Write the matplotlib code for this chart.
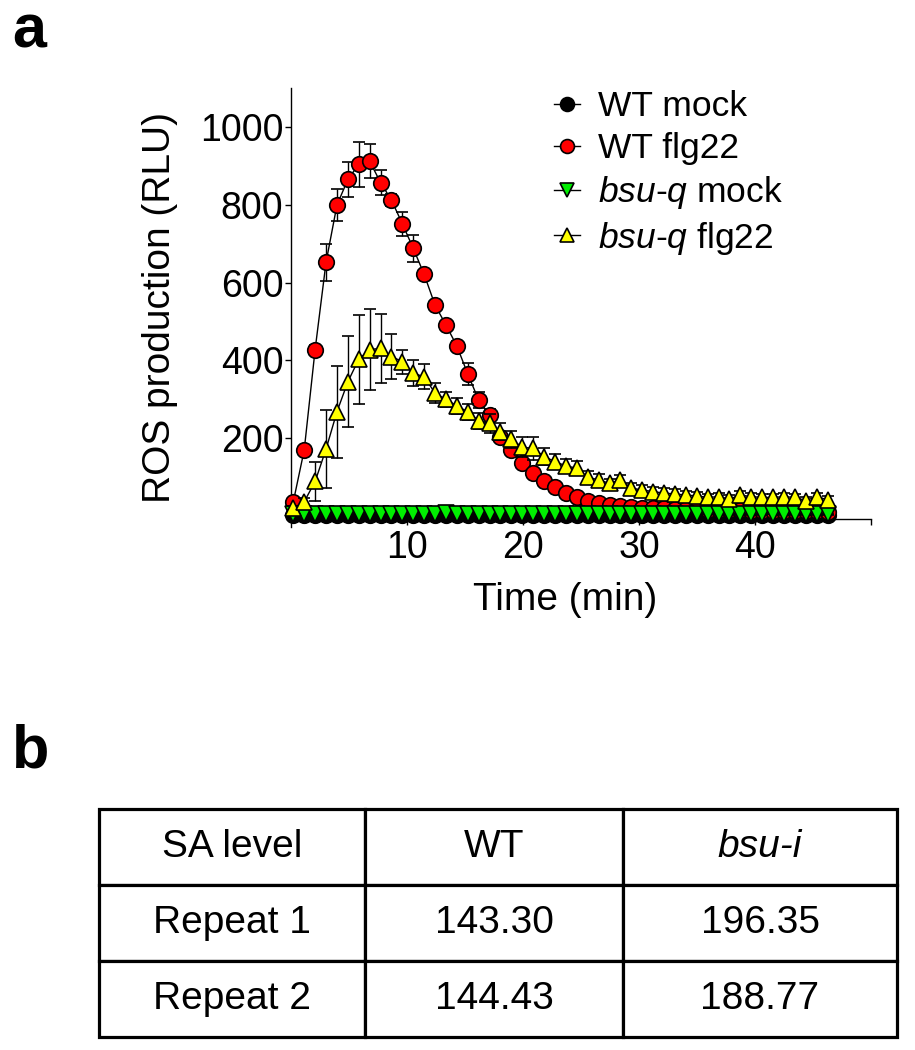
import numpy as np
import matplotlib
matplotlib.use("Agg")
import matplotlib.pyplot as plt

plt.rcParams['font.family'] = ['Liberation Sans', 'DejaVu Sans']
plt.rcParams['mathtext.fontset'] = 'custom'
plt.rcParams['mathtext.it'] = 'Liberation Sans:italic'
plt.rcParams['mathtext.rm'] = 'Liberation Sans'

# sampling: 50 readings, first at 0.2 min, then every ~0.94 min
n_points = 50
time_min = 0.2 + 0.94 * np.arange(n_points)

wt_mock = [2, 2, 3, 2, 2, 3, 2, 2, 3, 2, 2, 2, 3, 2, 2, 2, 2, 3, 2, 2,
           2, 2, 2, 3, 2, 2, 2, 2, 2, 2, 2, 2, 2, 2, 2, 2, 2, 2, 2, 2,
           2, 2, 2, 2, 2, 2, 2, 2, 2, 2]
wt_mock_err = [1] * n_points

wt_flg22 = [37, 170, 428, 652, 799, 865, 904, 912, 857, 812,
            751, 688, 621, 542, 491, 437, 365, 298, 260, 204,
            170, 136, 110, 89, 76, 59, 48, 38, 33, 29,
            26, 24, 22, 21, 20, 19, 18, 17, 16, 16,
            15, 15, 14, 14, 13, 13, 12, 12, 12, 11]
wt_flg22_err = [5, 8, 12, 47, 41, 44, 58, 44, 32, 15,
                30, 34, 12, 10, 10, 12, 29, 20, 15, 12,
                10, 8, 8, 6, 6, 5, 5, 4, 4, 4,
                3, 3, 3, 3, 3, 3, 3, 3, 3, 3,
                2, 2, 2, 2, 2, 2, 2, 2, 2, 2]

bsuq_mock = [5, 6, 5, 5, 6, 5, 5, 6, 5, 5, 5, 6, 5, 5, 7, 5, 5, 6, 5, 5,
             6, 5, 5, 5, 6, 5, 5, 5, 5, 6, 5, 5, 5, 6, 5, 5, 5, 5, 6, 5,
             5, 5, 5, 5, 6, 5, 5, 5, 5, 5]
bsuq_mock_err = [1] * n_points

bsuq_flg22 = [20, 37, 89, 172, 268, 345, 403, 428, 431, 410,
              397, 367, 358, 316, 300, 283, 268, 245, 238, 217,
              197, 177, 174, 153, 140, 129, 123, 100, 93, 84,
              93, 72, 67, 63, 59, 57, 54, 52, 48, 50,
              44, 54, 50, 48, 48, 50, 48, 40, 50, 42]
bsuq_flg22_err = [5, 10, 51, 101, 118, 117, 115, 103, 89, 58,
                  31, 33, 32, 25, 20, 20, 20, 20, 25, 22,
                  22, 25, 30, 22, 20, 18, 18, 15, 15, 12,
                  12, 12, 12, 12, 12, 12, 10, 10, 10, 10,
                  10, 10, 10, 10, 10, 10, 10, 10, 10, 10]

series = [
    ('WT mock', wt_mock, wt_mock_err, 'o', 'black'),
    ('WT flg22', wt_flg22, wt_flg22_err, 'o', '#ff0000'),
    ('$\\mathit{bsu}$-$\\mathit{q}$ mock', bsuq_mock, bsuq_mock_err, 'v', '#00ee00'),
    ('$\\mathit{bsu}$-$\\mathit{q}$ flg22', bsuq_flg22, bsuq_flg22_err, '^', '#ffff00'),
]

# table data
table_header = ['SA level', 'WT', 'bsu-i']
table_rows = [['Repeat 1', '143.30', '196.35'],
              ['Repeat 2', '144.43', '188.77']]

W, H = 915, 1050
fig = plt.figure(figsize=(W / 100, H / 100), dpi=100)

# ---- panel a ----
ax = fig.add_axes([291 / W, 1 - 527 / H, 580 / W, 439 / H])
handles = []
labels = []
for i, (label, vals, err, mk, col) in enumerate(series):
    cont = ax.errorbar(time_min, vals, yerr=err, fmt='-', marker=mk, color='black',
                       mfc=col, mec='black', ms=11.2, mew=1.2, lw=1.0,
                       elinewidth=1.0, capsize=4, capthick=1.0, label=label,
                       zorder=3 + i, clip_on=False)
    handles.append(cont.lines[0])  # legend shows only marker + line
    labels.append(label)

ax.set_xlim(0, 50)
ax.set_ylim(-28, 1100)
ax.spines['top'].set_visible(False)
ax.spines['right'].set_visible(False)
ax.spines['left'].set_linewidth(1.0)
ax.spines['bottom'].set_linewidth(1.0)
ax.spines['bottom'].set_position(('data', -8))

ax.set_xticks([10, 20, 30, 40, 50])
ax.set_xticklabels(['10', '20', '30', '40', ''])
ax.set_yticks([200, 400, 600, 800, 1000])
ax.tick_params(axis='both', direction='out', length=4.5, width=1.0, labelsize=27)
ax.tick_params(axis='y', pad=1)
ax.tick_params(axis='x', pad=3)

ax.set_xlabel('Time (min)', fontsize=28)
ax.xaxis.set_label_coords((565 - 291) / 580, -0.125)
ax.set_ylabel('ROS production (RLU)', fontsize=28)
ax.yaxis.set_label_coords(-0.195, 0.5)

leg = ax.legend(handles, labels, loc='upper left', bbox_to_anchor=(0.453, 0.995),
                frameon=False, fontsize=25.5, handlelength=0.75, handletextpad=0.5,
                labelspacing=0.25, borderaxespad=0, borderpad=0)
for h in leg.legend_handles:
    h.set_markersize(10)

fig.text(12 / W, 1 - 48 / H, 'a', fontsize=44, fontweight='bold')
fig.text(12 / W, 1 - 767 / H, 'b', fontsize=44, fontweight='bold')

# ---- panel b: table ----
tax = fig.add_axes([99 / W, 1 - 1037 / H, 798 / W, 228 / H])
tax.axis('off')
col_w = np.array([266, 258, 274], dtype=float)
tbl = tax.table(cellText=table_rows, colLabels=table_header,
                colWidths=list(col_w / col_w.sum()), cellLoc='center',
                loc='center', bbox=[0, 0, 1, 1])
tbl.auto_set_font_size(False)
for (r, c), cell in tbl.get_celld().items():
    cell.set_linewidth(2.3)
    cell.set_edgecolor('black')
    cell.get_text().set_fontsize(28)
    if r == 0 and c == 2:
        cell.get_text().set_fontstyle('italic')

fig.savefig('out.png', dpi=100)
